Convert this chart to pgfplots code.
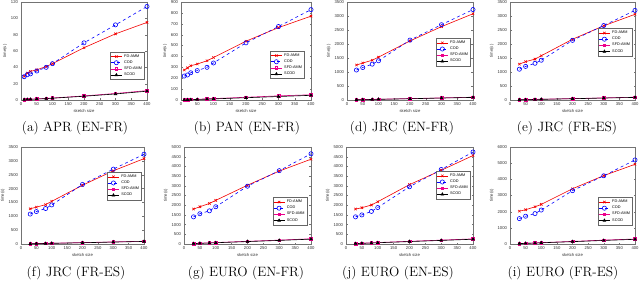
\documentclass[border=0pt]{standalone}
\usepackage{pgfplots}
\pgfplotsset{compat=1.18}
\usepackage{fontspec}
\setsansfont{Liberation Sans}
\pgfplotsset{
  base/.style={
    scale only axis,
    xmin=0, xmax=400, xtick={0,50,...,400},
    axis line style={black!55, line width=0.35pt},
    tick style={black!55, line width=0.3pt},
    major tick length=1.5pt,
    tick align=inside,
    /pgf/number format/assume math mode=true,
    /pgf/number format/1000 sep={},
    scaled y ticks=false,
    ticklabel style={font=\fontsize{4.2}{5}\sffamily, text=black!80},
    xticklabel style={yshift=0.5pt},
    yticklabel style={xshift=0.5pt},
    label style={font=\fontsize{4.2}{5}\sffamily, text=black!80},
    xlabel={sketch size}, ylabel={time(s)},
    xlabel style={yshift=3pt},
    ylabel style={yshift=-3pt},
    legend style={font=\fontsize{3.8}{4.2}\sffamily, draw=black!60, line width=0.3pt,
      inner sep=0.4pt, row sep=-2pt, cells={anchor=west}},
    legend cell align=left,
    legend image code/.code={\draw[mark repeat=2,mark phase=2,#1] plot coordinates {(0pt,0pt)(5.5pt,0pt)(11pt,0pt)};},
    every axis plot/.append style={line width=0.6pt},
    cycle list={
      {red!95!black, solid, mark=x, mark size=1.7pt},
      {blue, dashed, mark=o, mark size=2.1pt, mark options={solid}},
      {magenta, solid, mark=square, mark size=1.3pt},
      {black, solid, mark=triangle*, mark size=1.5pt}
    },
  },
}
\tikzset{capt/.style={font=\fontsize{13.5}{16}\selectfont}}
\begin{document}
\begin{tikzpicture}
\path[use as bounding box] (0pt,0pt) rectangle (640pt,-299pt);

% (a)
\begin{axis}[base, at={(21pt,-2pt)}, anchor=north west, width=126pt, height=98pt,
  ymin=0, ymax=120, ytick={0,20,...,120},
  legend style={at={(0.98,0.49)}, anchor=north east}]
\addplot coordinates {(10,29)(20,33)(30,35)(50,37)(80,41)(100,44.5)(200,64)(300,81)(400,95)};
\addplot coordinates {(10,28.5)(20,31)(30,32)(50,35.5)(80,40)(100,44.5)(200,70)(300,92)(400,114.5)};
\addplot coordinates {(10,0.6)(20,0.8)(30,1.0)(50,1.3)(80,1.9)(100,2.4)(200,5.0)(300,8.0)(400,11.5)};
\addplot coordinates {(10,0.5)(20,0.7)(30,0.9)(50,1.2)(80,1.7)(100,2.2)(200,4.6)(300,7.4)(400,10.8)};
\legend{FD-AMM, COD, SFD-AMM, SCOD}
\end{axis}

% (b)
\begin{axis}[base, at={(181pt,-2pt)}, anchor=north west, width=130pt, height=98pt,
  ymin=0, ymax=900, ytick={0,100,...,900},
  legend style={at={(0.95,0.5)}, anchor=north east}]
\addplot coordinates {(10,275)(20,295)(30,315)(50,330)(80,360)(100,390)(200,540)(300,665)(400,770)};
\addplot coordinates {(10,220)(20,230)(30,250)(50,270)(80,300)(100,340)(200,525)(300,675)(400,830)};
\addplot coordinates {(10,2)(20,3)(30,5)(50,7)(80,10)(100,13)(200,25)(300,38)(400,48)};
\addplot coordinates {(10,1)(20,2)(30,3)(50,5)(80,8)(100,10)(200,21)(300,32)(400,43)};
\legend{FD-AMM, COD, SFD-AMM, SCOD}
\end{axis}

% (d)
\begin{axis}[base, at={(347pt,-2pt)}, anchor=north west, width=126pt, height=98pt,
  ymin=0, ymax=3500, ytick={0,500,...,3500},
  legend style={at={(0.98,0.63)}, anchor=north east}]
\addplot coordinates {(30,1250)(50,1320)(80,1420)(100,1530)(200,2110)(300,2620)(400,3080)};
\addplot coordinates {(30,1070)(50,1160)(80,1280)(100,1400)(200,2140)(300,2690)(400,3230)};
\addplot coordinates {(30,10)(50,15)(80,22)(100,28)(200,50)(300,75)(400,100)};
\addplot coordinates {(30,8)(50,12)(80,18)(100,24)(200,45)(300,70)(400,92)};
\legend{FD-AMM, COD, SFD-AMM, SCOD}
\end{axis}

% (e)
\begin{axis}[base, at={(510pt,-2pt)}, anchor=north west, width=125pt, height=98pt,
  ymin=0, ymax=3500, ytick={0,500,...,3500},
  legend style={at={(0.98,0.73)}, anchor=north east}]
\addplot coordinates {(30,1280)(50,1370)(80,1460)(100,1580)(200,2170)(300,2650)(400,3060)};
\addplot coordinates {(30,1100)(50,1200)(80,1310)(100,1420)(200,2130)(300,2660)(400,3200)};
\addplot coordinates {(30,10)(50,15)(80,22)(100,28)(200,50)(300,75)(400,100)};
\addplot coordinates {(30,8)(50,12)(80,18)(100,24)(200,45)(300,70)(400,92)};
\legend{FD-AMM, COD, SFD-AMM, SCOD}
\end{axis}

% (f)
\begin{axis}[base, at={(21pt,-147pt)}, anchor=north west, width=123pt, height=97pt,
  ymin=0, ymax=3500, ytick={0,500,...,3500},
  legend style={at={(0.98,0.74)}, anchor=north east}]
\addplot coordinates {(30,1270)(50,1330)(80,1420)(100,1540)(200,2120)(300,2640)(400,3080)};
\addplot coordinates {(30,1080)(50,1170)(80,1280)(100,1410)(200,2150)(300,2700)(400,3240)};
\addplot coordinates {(30,10)(50,15)(80,22)(100,28)(200,50)(300,75)(400,100)};
\addplot coordinates {(30,8)(50,12)(80,18)(100,24)(200,45)(300,70)(400,92)};
\legend{FD-AMM, COD, SFD-AMM, SCOD}
\end{axis}

% (g)
\begin{axis}[base, at={(184pt,-147pt)}, anchor=north west, width=127pt, height=97pt,
  ymin=0, ymax=5000, ytick={0,500,...,5000},
  legend style={at={(0.97,0.48)}, anchor=north east}]
\addplot coordinates {(30,1800)(50,1920)(80,2090)(100,2250)(200,3030)(300,3760)(400,4370)};
\addplot coordinates {(30,1400)(50,1560)(80,1710)(100,1920)(200,2980)(300,3780)(400,4650)};
\addplot coordinates {(30,25)(50,40)(80,60)(100,75)(200,140)(300,200)(400,270)};
\addplot coordinates {(30,20)(50,35)(80,50)(100,65)(200,125)(300,185)(400,250)};
\legend{FD-AMM, COD, SFD-AMM, SCOD}
\end{axis}

% (j)
\begin{axis}[base, at={(346pt,-147pt)}, anchor=north west, width=127pt, height=97pt,
  ymin=0, ymax=5000, ytick={0,500,...,5000},
  legend style={at={(0.98,0.75)}, anchor=north east}]
\addplot coordinates {(30,1800)(50,1870)(80,2010)(100,2180)(200,3060)(300,3800)(400,4560)};
\addplot coordinates {(30,1400)(50,1500)(80,1680)(100,1880)(200,2950)(300,3840)(400,4740)};
\addplot coordinates {(30,25)(50,40)(80,60)(100,75)(200,140)(300,200)(400,265)};
\addplot coordinates {(30,20)(50,35)(80,50)(100,65)(200,125)(300,185)(400,245)};
\legend{FD-AMM, COD, SFD-AMM, SCOD}
\end{axis}

% (i)
\begin{axis}[base, at={(510pt,-147pt)}, anchor=north west, width=125pt, height=97pt,
  ymin=0, ymax=6000, ytick={0,1000,...,6000},
  legend style={at={(0.98,0.48)}, anchor=north east}]
\addplot coordinates {(30,2030)(50,2120)(80,2300)(100,2450)(200,3420)(300,4230)(400,4930)};
\addplot coordinates {(30,1570)(50,1720)(80,1880)(100,2100)(200,3300)(300,4220)(400,5200)};
\addplot coordinates {(30,30)(50,45)(80,65)(100,85)(200,160)(300,240)(400,310)};
\addplot coordinates {(30,25)(50,40)(80,58)(100,75)(200,145)(300,220)(400,290)};
\legend{FD-AMM, COD, SFD-AMM, SCOD}
\end{axis}

\node[capt] at (75pt,-128pt) {(a) APR (EN-FR)};
\node[capt] at (247pt,-128pt) {(b) PAN (EN-FR)};
\node[capt] at (402pt,-128pt) {(d) JRC (EN-FR)};
\node[capt] at (567pt,-128pt) {(e) JRC (FR-ES)};
\node[capt] at (76pt,-273pt) {(f) JRC (FR-ES)};
\node[capt] at (246pt,-273pt) {(g) EURO (EN-FR)};
\node[capt] at (398pt,-273pt) {(j) EURO (EN-ES)};
\node[capt] at (563pt,-273pt) {(i) EURO (FR-ES)};
\end{tikzpicture}
\end{document}
